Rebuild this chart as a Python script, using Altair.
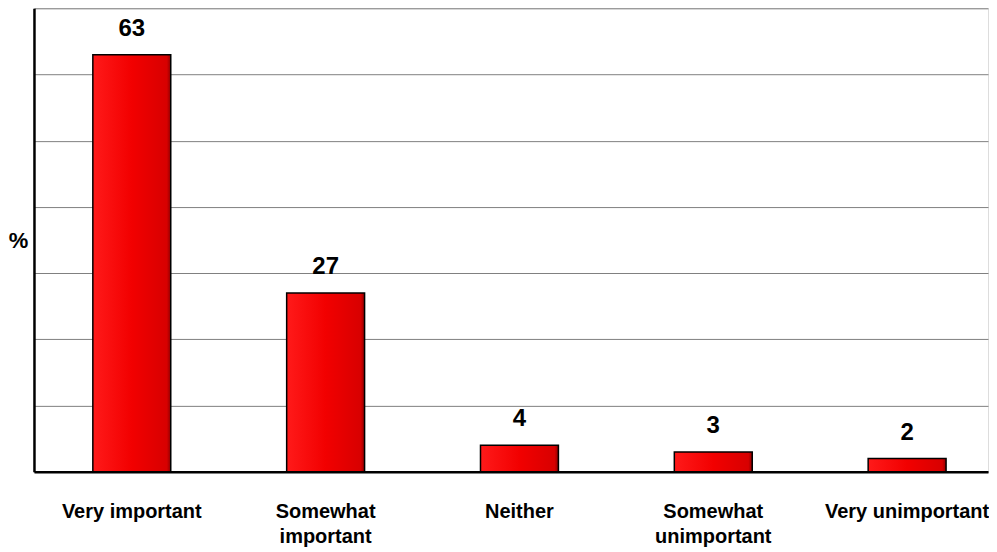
import altair as alt
import pandas as pd

categories = ["Very important", "Somewhat important", "Neither", "Somewhat unimportant", "Very unimportant"]
values = [63, 27, 4, 3, 2]
label_lines = {
    "Somewhat important": ["Somewhat", "important"],
    "Somewhat unimportant": ["Somewhat", "unimportant"],
}
y_ticks = [0, 10, 20, 30, 40, 50, 60, 70]

df = pd.DataFrame({"category": categories, "value": values})

label_expr = "datum.label"
for k, v in label_lines.items():
    label_expr = f"datum.label == '{k}' ? ['{v[0]}', '{v[1]}'] : (" + label_expr + ")"

FONT = "Liberation Sans"

x_enc = alt.X(
    "category:N",
    sort=categories,
    scale=alt.Scale(paddingInner=0.598, paddingOuter=0.26, align=0.584),
    axis=alt.Axis(
        title=None,
        labelAngle=0,
        labelFont=FONT,
        labelFontSize=20,
        labelFontWeight="bold",
        labelColor="#000000",
        labelPadding=30,
        labelLineHeight=25,
        labelExpr=label_expr,
        ticks=False,
        domainColor="#000000",
        domainWidth=2.5,
        grid=False,
        labelLimit=300,
    ),
)

y_enc = alt.Y(
    "value:Q",
    scale=alt.Scale(domain=[0, 70], nice=False),
    axis=alt.Axis(
        values=y_ticks,
        labels=False,
        ticks=False,
        grid=True,
        gridColor="#808080",
        gridWidth=1,
        domainColor="#000000",
        domainWidth=2.5,
        title="%",
        titleAngle=0,
        titleFont=FONT,
        titleFontSize=22,
        titleFontWeight="bold",
        titleColor="#000000",
        titleX=-16,
        titleY=232,
        titleAlign="center",
        titleBaseline="middle",
    ),
)

grad = alt.Gradient(
    gradient="linear",
    x1=0, y1=0, x2=1, y2=0,
    stops=[
        alt.GradientStop(color="#FF1A1A", offset=0),
        alt.GradientStop(color="#F20000", offset=0.5),
        alt.GradientStop(color="#D80000", offset=0.95),
        alt.GradientStop(color="#900000", offset=1),
    ],
)

bars = alt.Chart(df).mark_bar(
    color=grad, stroke="#000000", strokeWidth=1.5
).encode(x=x_enc, y=y_enc)

labels = alt.Chart(df).mark_text(
    font=FONT, fontSize=24, fontWeight="bold", color="#000000",
    baseline="alphabetic", dy=-19
).encode(
    x=alt.X("category:N", sort=categories),
    y=alt.Y("value:Q"),
    text=alt.Text("value:Q"),
)

chart = alt.layer(bars, labels).properties(
    width=955,
    height=464,
    padding={"left": 0, "top": 0, "right": 0, "bottom": 0},
).configure_view(stroke=None).configure(background="#ffffff")

chart.save("out.html", embed_options={"renderer": "svg", "actions": False})
